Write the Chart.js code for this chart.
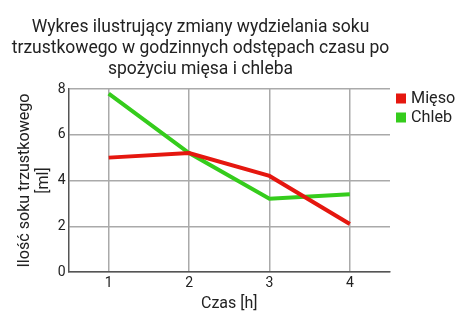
<!DOCTYPE html>
<html><head><meta charset="utf-8">
<script src="https://cdn.jsdelivr.net/npm/chart.js@4/dist/chart.umd.min.js"></script>
<style>html,body{margin:0;padding:0;background:#fff}#w{width:474px;height:323px}</style>
</head><body><div id="w"><canvas id="c"></canvas></div>
<script>
const categories = ["1", "2", "3", "4"];
const mieso = [5.0, 5.2, 4.2, 2.1];
const chleb = [7.8, 5.2, 3.2, 3.4];
const yTicks = [0, 2, 4, 6, 8];
const titleLines = ["Wykres ilustrujący zmiany wydzielania soku", "trzustkowego w godzinnych odstępach czasu po", "spożyciu mięsa i chleba"];
const yTitle = ["Ilość soku trzustkowego", "[ml]"];
const xTitle = "Czas [h]";

const sideLegend = {
  id: 'sideLegend',
  afterDraw(chart) {
    const ctx = chart.ctx;
    const a = chart.chartArea;
    ctx.save();
    ctx.font = "16.2px Roboto";
    ctx.textBaseline = "middle";
    ctx.textAlign = "left";
    chart.data.datasets.forEach((ds, i) => {
      const cy = a.top + 9.5 + i * 19;
      ctx.fillStyle = ds.borderColor;
      ctx.fillRect(a.right + 6, cy - 5, 10, 10);
      ctx.fillStyle = "#222";
      ctx.fillText(ds.label, a.right + 21, cy);
    });
    ctx.restore();
  }
};

Chart.defaults.font.family = "Roboto";
Chart.defaults.color = "#222";
new Chart(document.getElementById('c'), {
  type: 'line',
  data: {
    labels: categories,
    datasets: [
      {label: "Mięso", data: mieso, borderColor: "#e5170f", backgroundColor: "#e5170f", borderWidth: 4, pointRadius: 0, tension: 0},
      {label: "Chleb", data: chleb, borderColor: "#35cc1c", backgroundColor: "#35cc1c", borderWidth: 4, pointRadius: 0, tension: 0}
    ]
  },
  options: {
    responsive: true, maintainAspectRatio: false, animation: false,
    layout: {padding: {top: 17, bottom: 5, left: 11, right: 84}},
    plugins: {
      title: {display: true, text: titleLines, font: {size: 17.5, weight: 'normal'}, color: "#222", padding: {top: 0, bottom: 9}, lineHeight: 1.2},
      legend: {display: false},
      tooltip: {enabled: false}
    },
    scales: {
      x: {
        offset: true,
        grid: {offset: false, color: "#aaa", drawTicks: false, lineWidth: 1.5},
        border: {color: "#555", width: 1.5},
        ticks: {font: {size: 14}, color: "#222", padding: 3},
        title: {display: true, text: xTitle, font: {size: 16}, color: "#222", padding: {top: 0}}
      },
      y: {
        min: 0, max: 8,
        afterBuildTicks: (s) => { s.ticks = yTicks.map(v => ({value: v})); },
        grid: {color: "#aaa", drawTicks: false, lineWidth: 1.5},
        border: {color: "#555", width: 1.5},
        ticks: {font: {size: 14}, color: "#222", padding: 3},
        title: {display: true, text: yTitle, font: {size: 16.1}, color: "#222", padding: {bottom: 1}}
      }
    }
  },
  plugins: [sideLegend]
});
</script></body></html>
